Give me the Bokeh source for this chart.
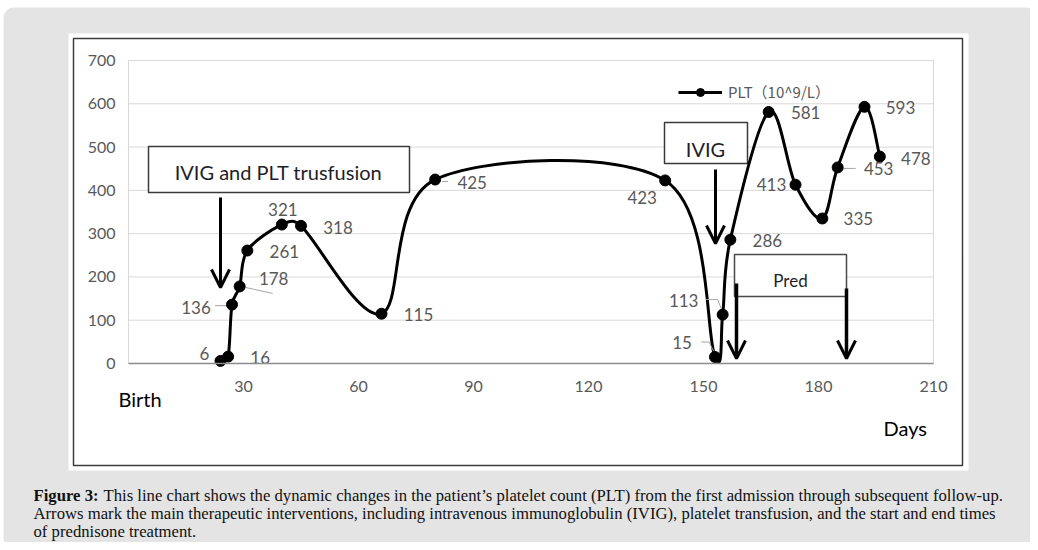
import numpy as np
from bokeh.plotting import figure
from bokeh.models import Range1d, FixedTicker, Arrow, OpenHead, Legend, LegendItem
from bokeh.core.properties import value
from bokeh.embed import file_html
from bokeh.resources import INLINE

# ---------------- data ----------------
days = [24, 26, 27, 29, 31, 40, 45, 66, 80, 140, 153, 155, 157, 167, 174, 181, 185, 192, 196]
plt_values = [6, 16, 136, 178, 261, 321, 318, 115, 425, 423, 15, 113, 286, 581, 413, 335, 453, 593, 478]
x_ticks = [30, 60, 90, 120, 150, 180, 210]
y_ticks = [0, 100, 200, 300, 400, 500, 600, 700]
x_bounds = (0, 210)
y_bounds = (0, 700)
series_name = "PLT（10^9/L）"
caption_bold = "Figure 3:"
caption_lines = [
    "This line chart shows the dynamic changes in the patient\u2019s platelet count (PLT) from the first admission through subsequent follow-up.",
    "Arrows mark the main therapeutic interventions, including intravenous immunoglobulin (IVIG), platelet transfusion, and the start and end times",
    "of prednisone treatment.",
]

# label offsets in screen px (x right, y down) relative to each point
label_dx = [-16, 32, -36, 34, 37, 1, 37, 37, 37, -23, -33, -39, 37, 37, -24, 36, 41, 36, 36]
label_dy = [-7, 1, 3, -8, 1, -15, 2, 1, 3, 17, -15, -14, 1, 0, 0, 0, 1, 1, 2]

# ---------------- page-pixel helpers (layout only) ----------------
SX = (933 - 128) / 210.0
SY = (363 - 60) / 700.0
def px_x(X):
    return (X - 128) / SX
def px_y(Y):
    return (363 - Y) / SY

W, H = 1030, 542
p = figure(width=W, height=H, output_backend="svg", toolbar_location=None,
           x_range=Range1d(px_x(0), px_x(W)), y_range=Range1d(px_y(H), px_y(0)),
           min_border=0)
p.outline_line_color = None
p.grid.visible = False
p.background_fill_color = "white"
p.border_fill_color = "white"

# backgrounds
p.quad(left=px_x(3), right=px_x(1035), top=px_y(7), bottom=px_y(547),
       fill_color="#e4e4e4", line_color=None, border_radius=10)
p.quad(left=px_x(68), right=px_x(968), top=px_y(33), bottom=px_y(470),
       fill_color="white", line_color=None)
p.quad(left=px_x(73), right=px_x(962), top=px_y(38), bottom=px_y(465),
       fill_color=None, line_color="#3c3c3c", line_width=1.5)

# gridlines & plot area border
grid_y = y_ticks[1:]
p.segment(x0=x_bounds[0], x1=x_bounds[1], y0=grid_y, y1=grid_y, line_color="#d9d9d9", line_width=1)
p.segment(x0=list(x_bounds), x1=list(x_bounds), y0=y_bounds[0], y1=y_bounds[1],
          line_color="#d9d9d9", line_width=1)

# axes placed inside the frame
xa = p.xaxis[0]
xa.fixed_location = 0
xa.bounds = x_bounds
xa.ticker = FixedTicker(ticks=x_ticks)
xa.axis_line_color = "#8c8c8c"
xa.axis_line_width = 1.5
xa.major_tick_line_color = None
xa.minor_tick_line_color = None
xa.major_tick_out = 0
xa.major_tick_in = 0
xa.major_label_text_font = "Lato"
xa.major_label_text_font_size = "16px"
xa.major_label_text_color = "#595959"
xa.major_label_standoff = 17

ya = p.yaxis[0]
ya.fixed_location = 0
ya.bounds = y_bounds
ya.ticker = FixedTicker(ticks=y_ticks)
ya.axis_line_color = None
ya.major_tick_line_color = None
ya.minor_tick_line_color = None
ya.major_tick_out = 0
ya.major_tick_in = 0
ya.major_label_text_font = "Lato"
ya.major_label_text_font_size = "16px"
ya.major_label_text_color = "#595959"
ya.major_label_standoff = 13

# annotation boxes
p.quad(left=px_x(148), right=px_x(409), top=px_y(146), bottom=px_y(192),
       fill_color="white", line_color="#3a3a3a", line_width=1.5)
p.quad(left=px_x(664), right=px_x(747), top=px_y(122), bottom=px_y(163),
       fill_color="white", line_color="#3a3a3a", line_width=1.5)
p.quad(left=px_x(734), right=px_x(846), top=px_y(254), bottom=px_y(296),
       fill_color="white", line_color="#4a4a4a", line_width=1.5)

# smoothed line (Excel-style Bezier through the data points, tangents limited)
P = np.column_stack([np.array(days, float) * SX, np.array(plt_values, float) * SY])
n = len(P)
x0, y0, x1, y1, cx0, cy0, cx1, cy1 = ([] for _ in range(8))
for i in range(n - 1):
    pm = P[i - 1] if i > 0 else P[i]
    pn = P[i + 2] if i + 2 < n else P[i + 1]
    half = np.linalg.norm(P[i + 1] - P[i]) / 2.0
    t1 = (P[i + 1] - pm) / 6.0
    t2 = (pn - P[i]) / 6.0
    for t in (t1, t2):
        m = np.linalg.norm(t)
        if m > half and m > 0:
            t *= half / m
    c0 = P[i] + t1
    c1 = P[i + 1] - t2
    x0.append(days[i]); y0.append(plt_values[i])
    x1.append(days[i + 1]); y1.append(plt_values[i + 1])
    cx0.append(c0[0] / SX); cy0.append(c0[1] / SY)
    cx1.append(c1[0] / SX); cy1.append(c1[1] / SY)
p.bezier(x0=x0, y0=y0, x1=x1, y1=y1, cx0=cx0, cy0=cy0, cx1=cx1, cy1=cy1,
         line_color="black", line_width=3)

# leader lines (gray) for some labels: offsets in px from the point
leaders = {
    2: [(-17, 1), (-5, 1)],
    3: [(6, 1), (33, 7)],
    8: [(7, 2), (13, 2)],
    10: [(-14, -15), (-6, -15), (-1, -5)],
    11: [(-17, -15), (-5, -15), (-1, -5)],
    16: [(5, 1), (18, 1)],
}
lxs, lys = [], []
for idx, pts in leaders.items():
    lxs.append([days[idx] + ox / SX for ox, oy in pts])
    lys.append([plt_values[idx] - oy / SY for ox, oy in pts])
p.multi_line(xs=lxs, ys=lys, line_color="#a6a6a6", line_width=1)

sc = p.scatter(days, plt_values, size=11, color="black")

# data labels
p.text(x=days, y=plt_values, text=[str(v) for v in plt_values],
       x_offset=label_dx, y_offset=label_dy,
       text_font=value("Lato"), text_font_size="17px", text_color="#595959",
       text_align="center", text_baseline="middle")

# arrows
def arrow(X, Y0, Y1, lw=3):
    p.add_layout(Arrow(x_start=px_x(X), y_start=px_y(Y0), x_end=px_x(X), y_end=px_y(Y1),
                       line_width=lw, line_color="black",
                       end=OpenHead(size=18, line_width=3, line_color="black")))
arrow(220, 197, 287)
arrow(715, 169, 243)
arrow(736, 283, 358, 3.5)
arrow(846, 288, 358, 3.5)

# annotation texts
p.text(x=[px_x(278), px_x(705)], y=[px_y(171), px_y(148)],
       text=["IVIG and PLT trusfusion", "IVIG"],
       text_font=value("Lato"), text_font_size="20px", text_color="#1e1e28",
       text_align="center", text_baseline="middle")
p.text(x=[px_x(790)], y=[px_y(280)], text=["Pred"],
       text_font=value("Lato"), text_font_size="17px", text_color="#1e1e28",
       text_align="center", text_baseline="middle")

# axis titles
p.text(x=[px_x(118)], y=[px_y(398)], text=["Birth"], text_font=value("Lato"),
       text_font_size="20px", text_color="black", text_align="left", text_baseline="middle")
p.text(x=[px_x(883)], y=[px_y(427)], text=["Days"], text_font=value("Lato"),
       text_font_size="20px", text_color="black", text_align="left", text_baseline="middle")

# legend
dummy = p.line(x=[days[0]], y=[plt_values[0]], line_color="black", line_width=3)
legend = Legend(items=[LegendItem(label=series_name, renderers=[dummy, sc])],
                location=(678, 440), glyph_width=44, glyph_height=20, label_height=20,
                padding=0, margin=0, label_standoff=6, spacing=0,
                background_fill_alpha=0, border_line_color=None,
                label_text_font="Noto Sans CJK SC", label_text_font_size="15px",
                label_text_color="#595959")
p.add_layout(legend)

# caption
p.text(x=[px_x(33)], y=[px_y(495)], text=[caption_bold], text_font=value("Liberation Serif"),
       text_font_size="16.7px", text_font_style="bold", text_color="#111111",
       text_align="left", text_baseline="middle")
p.text(x=[px_x(103), px_x(33), px_x(33)], y=[px_y(495), px_y(513), px_y(531)], text=caption_lines,
       text_font=value("Liberation Serif"), text_font_size="16.7px", text_color="#111111",
       text_align="left", text_baseline="middle")

open("out.html", "w").write(file_html(p, INLINE))
